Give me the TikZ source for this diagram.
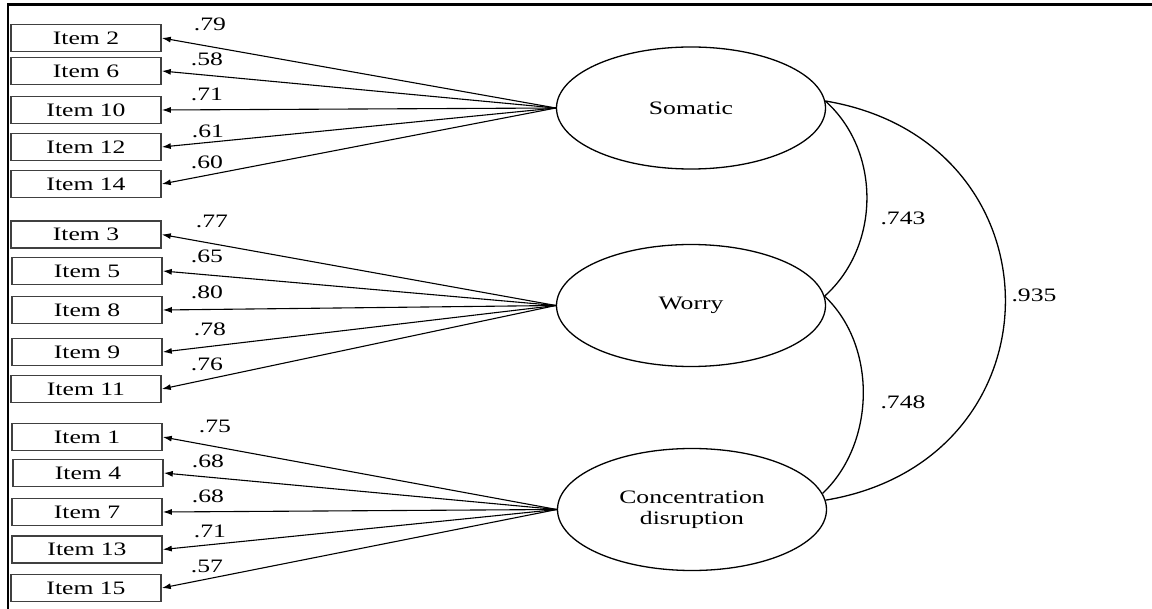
\documentclass[tikz,border=0pt]{standalone}
\usepackage{fontspec}
\setmainfont{Liberation Serif}
\usepackage{graphicx}
\usetikzlibrary{arrows.meta,shapes.geometric}
\newcommand{\wx}[1]{\scalebox{1.35}[1]{#1}}
\begin{document}
\begin{tikzpicture}[x=1pt,y=-1pt,
  txt/.style={font=\fontsize{19}{22}\selectfont},
  itembox/.style={txt, draw=black!75, line width=1.6pt, minimum width=150pt, minimum height=27pt, inner sep=0pt},
  latent/.style={txt, ellipse, draw, line width=1.3pt, minimum width=269pt, minimum height=122pt, inner sep=0pt, align=center},
  load/.style={-{Latex[length=9pt,width=6pt]}, line width=1.1pt},
  lab/.style={txt, inner sep=0pt},
  corr/.style={line width=1.3pt},
  frame/.style={line width=2.2pt}]
\useasboundingbox (0,0) rectangle (1152,609);
\coordinate (ftl) at (8,4.5);
\coordinate (ftr) at (1152,4.5);
\coordinate (fbl) at (8,609);
\draw[frame] (ftr) -- (ftl) -- (fbl);

% latent variables
\node[latent] (som) at (691,108) {\wx{Somatic}};
\node[latent] (wor) at (691,305.5) {\wx{Worry}};
\node[latent] (con) at (692,509.5) {\wx{Concentration}\\[-1pt]\wx{disruption}};

% items
\node[itembox] (i2)  at (86,38)    {\wx{Item 2}};
\node[itembox] (i6)  at (86,71)    {\wx{Item 6}};
\node[itembox] (i10) at (86,110)   {\wx{Item 10}};
\node[itembox] (i12) at (86,147)   {\wx{Item 12}};
\node[itembox] (i14) at (86,184)   {\wx{Item 14}};
\node[itembox] (i3)  at (86,234.5) {\wx{Item 3}};
\node[itembox] (i5)  at (87,271)   {\wx{Item 5}};
\node[itembox] (i8)  at (87,310)   {\wx{Item 8}};
\node[itembox] (i9)  at (87,352)   {\wx{Item 9}};
\node[itembox] (i11) at (86,389)   {\wx{Item 11}};
\node[itembox] (i1)  at (87,437)   {\wx{Item 1}};
\node[itembox] (i4)  at (88,473)   {\wx{Item 4}};
\node[itembox] (i7)  at (87,512)   {\wx{Item 7}};
\node[itembox] (i13) at (87,549.5) {\wx{Item 13}};
\node[itembox] (i15) at (86,588)   {\wx{Item 15}};

% loadings
\foreach \i in {i2,i6,i10,i12,i14} \draw[load] (som.west) -- (\i.east);
\foreach \i in {i3,i5,i8,i9,i11} \draw[load] (wor.west) -- (\i.east);
\foreach \i in {i1,i4,i7,i13,i15} \draw[load] (con.west) -- (\i.east);

\node[lab] (l2)  at (210,24)  {\wx{.79}};
\node[lab] (l6)  at (207,59)  {\wx{.58}};
\node[lab] (l10) at (207,94)  {\wx{.71}};
\node[lab] (l12) at (208,131) {\wx{.61}};
\node[lab] (l14) at (207,162) {\wx{.60}};
\node[lab] (l3)  at (212,221) {\wx{.77}};
\node[lab] (l5)  at (207,256) {\wx{.65}};
\node[lab] (l8)  at (207,292) {\wx{.80}};
\node[lab] (l9)  at (210,329) {\wx{.78}};
\node[lab] (l11) at (207,364) {\wx{.76}};
\node[lab] (l1)  at (215,426) {\wx{.75}};
\node[lab] (l4)  at (208,461) {\wx{.68}};
\node[lab] (l7)  at (208,496) {\wx{.68}};
\node[lab] (l13) at (210,531) {\wx{.71}};
\node[lab] (l15) at (207,566) {\wx{.57}};

% correlations
\draw[corr] (som.3) .. controls +(56,50) and +(56,-50) .. (wor.4);
\draw[corr] (wor.4) .. controls +(53,50) and +(53,-50) .. (con.7);
\draw[corr] (som.3) .. controls +(240,40) and +(240,-40) .. (con.4);
\node[lab] (c1) at (903,218) {\wx{.743}};
\node[lab] (c2) at (903,402) {\wx{.748}};
\node[lab] (c3) at (1034,295) {\wx{.935}};
\end{tikzpicture}
\end{document}
